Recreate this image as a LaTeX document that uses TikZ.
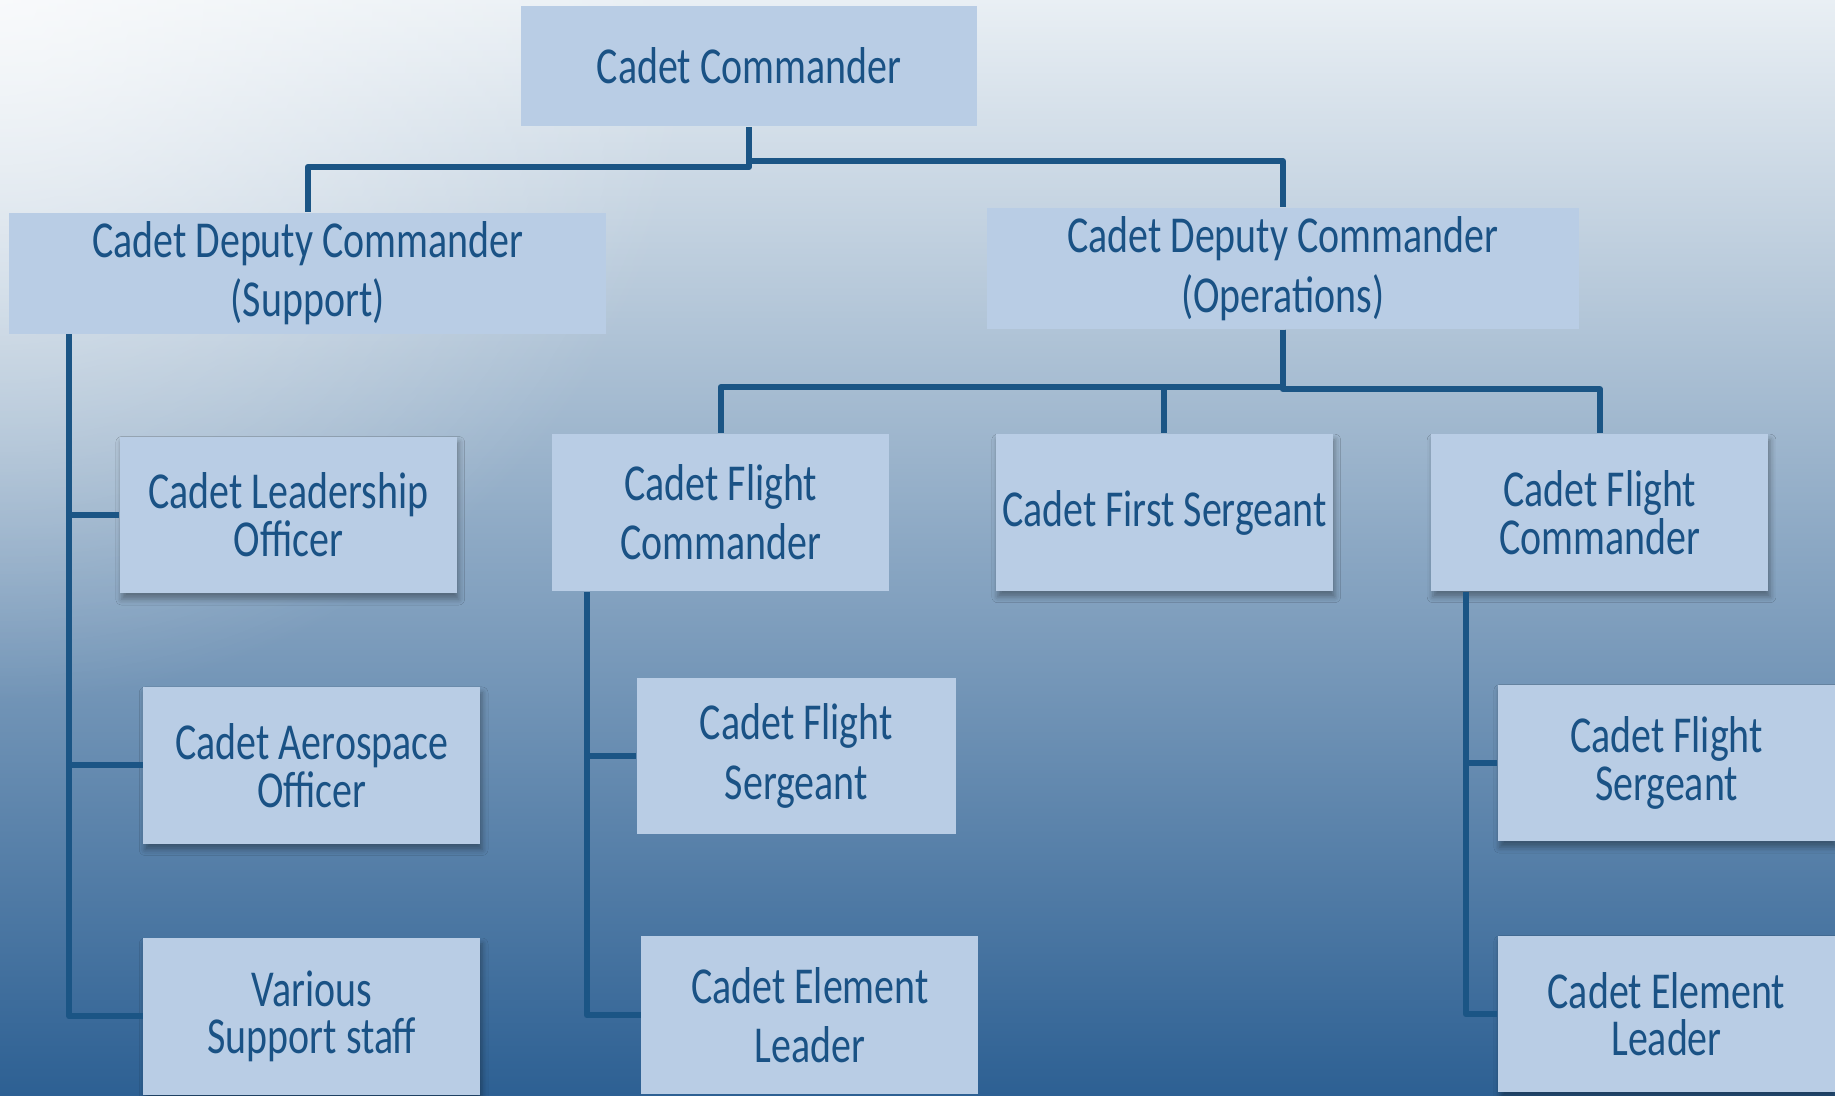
\documentclass[tikz,border=0pt]{standalone}
\usepackage{fontspec}
\setmainfont{Carlito}[FakeStretch=0.77]
\usepackage{tikz}
\usetikzlibrary{calc}
\usetikzlibrary{positioning}
\usetikzlibrary{fadings}
\usetikzlibrary{shadows.blur}
\definecolor{boxfill}{HTML}{B9CDE5}
\definecolor{inkblue}{HTML}{1A5285}
\definecolor{linkblue}{HTML}{1B5585}
\definecolor{bgtop}{HTML}{E9EFF4}
\definecolor{bgmid}{HTML}{98B2CA}
\definecolor{bgbot}{HTML}{2D6093}
\tikzfading[name=glow, inner color=transparent!0, outer color=transparent!100]

\begin{document}
\begin{tikzpicture}[on grid,                                                                   % Centre-to-centre placement
                        unit/.style = {rectangle, fill=boxfill, text=inkblue, inner sep=0pt,
                                       minimum width=2.88cm, minimum height=1.34cm, align=center,
                                       font=\fontsize{12.6}{14.4}\selectfont},                  % Plain boxes
                        staff/.style = {unit, font=\fontsize{12.6}{11.6}\selectfont,
                                        blur shadow={shadow xshift=0.15mm, shadow yshift=-0.5mm,
                                                     shadow blur radius=0.5mm, shadow opacity=35}}, % Shadowed boxes
                        link/.style = {draw=linkblue, line width=1.45pt, line join=round}]     % Connectors
        % background
        \useasboundingbox (0,0) rectangle (15.68,-9.36);
        \clip (0,0) rectangle (15.68,-9.36);
        \shade[top color=bgtop, middle color=bgmid, bottom color=bgbot] (0,0) rectangle (15.68,-9.36);
        \fill[white, opacity=0.7, path fading=glow] (-6,6) rectangle (6,-6);
        % boxes
        \node[unit, minimum width=3.90cm, minimum height=1.03cm] (cc) at (6.40,-0.565) {Cadet Commander};
        \node[unit, minimum width=5.10cm, minimum height=1.03cm] (dcs) [below left =1.77cm and 3.77cm of cc] {Cadet Deputy Commander\\(Support)};
        \node[unit, minimum width=5.06cm, minimum height=1.03cm] (dco) [below right =1.73cm and 4.56cm of cc] {Cadet Deputy Commander\\(Operations)};
        \node[staff] (clo) [below left =2.065cm and 0.165cm of dcs] {Cadet Leadership\\Officer};
        \node[staff] (cao) [below right =2.14cm and 0.20cm of clo] {Cadet Aerospace\\Officer};
        \node[staff] (vss) [below =2.145cm of cao] {Various\\Support staff};
        \node[unit] (cfc1) [below left =2.085cm and 4.80cm of dco] {Cadet Flight\\Commander};
        \node[staff] (cfs) [right =3.79cm of cfc1] {Cadet First Sergeant};
        \node[staff] (cfc2) [right =3.72cm of cfs] {Cadet Flight\\Commander};
        \node[unit, minimum width=2.73cm] (fs1) [below right =2.08cm and 0.645cm of cfc1] {Cadet Flight\\Sergeant};
        \node[unit, minimum height=1.35cm] (el1) [below right =2.215cm and 0.115cm of fs1] {Cadet Element\\Leader};
        \node[staff] (fs2) [below right =2.14cm and 0.57cm of cfc2] {Cadet Flight\\Sergeant};
        \node[staff] (el2) [below =2.145cm of fs2] {Cadet Element\\Leader};
        % trunks
        \coordinate (dcsT) at ($(dcs.south west)+(0.52,0)$);
        \coordinate (cfc1T) at ($(cfc1.south west)+(0.30,0)$);
        \coordinate (cfc2T) at ($(cfc2.south west)+(0.30,0)$);
        %edge:commander
        \draw[link] (cc.south) -- ++(0,-0.34) -| (dcs.north);
        \draw[link] (cc.south) -- ++(0,-0.29) -| (dco.north);
        %edge:operations
        \draw[link] (dco.south) -- ++(0,-0.49) -| (cfc1.north);
        \draw[link] (dco.south) -- ++(0,-0.49) -| (cfs.north);
        \draw[link] (dco.south) -- ++(0,-0.51) -| (cfc2.north);
        %edge:support
        \draw[link] (dcsT) |- (vss.west);
        \draw[link] (dcsT |- clo.west) -- (clo.west);
        \draw[link] (dcsT |- cao.west) -- (cao.west);
        %edge:flights
        \draw[link] (cfc1T) |- (el1.west);
        \draw[link] (cfc1T |- fs1.west) -- (fs1.west);
        \draw[link] (cfc2T) |- (el2.west);
        \draw[link] (cfc2T |- fs2.west) -- (fs2.west);
    \end{tikzpicture}
\end{document}
